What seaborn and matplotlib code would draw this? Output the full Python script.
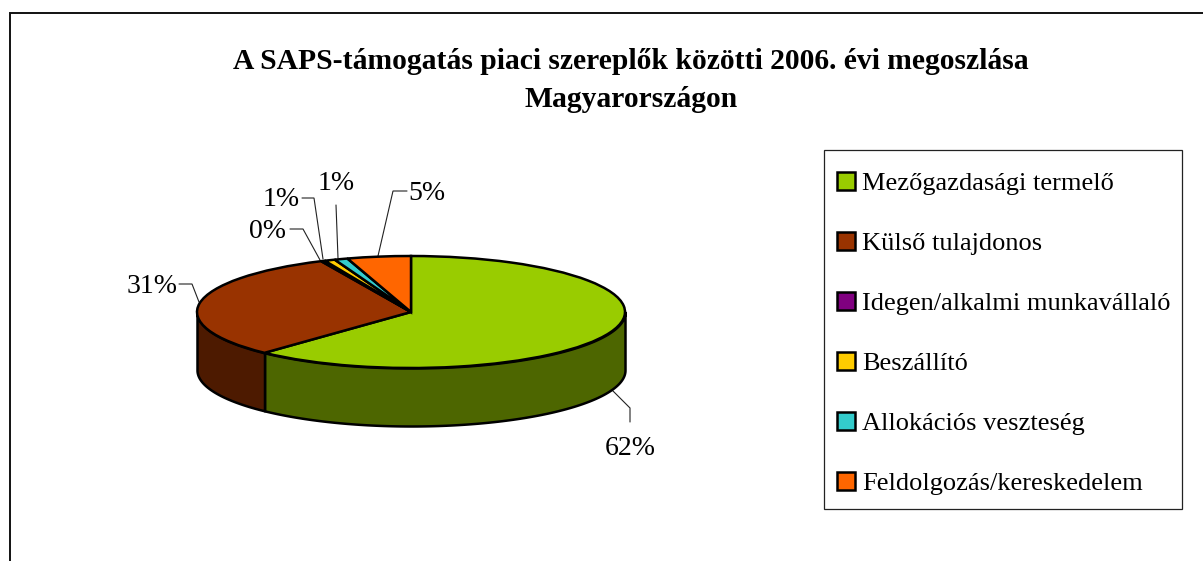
import numpy as np
import seaborn as sns
import matplotlib.pyplot as plt
from matplotlib.patches import Patch, Rectangle

categories = ["Mezőgazdasági termelő", "Külső tulajdonos", "Idegen/alkalmi munkavállaló",
              "Beszállító", "Allokációs veszteség", "Feldolgozás/kereskedelem"]
values = [62.0, 31.1, 0.3, 0.8, 1.0, 4.8]
pct_labels = ["62%", "31%", "0%", "1%", "1%", "5%"]
top_colors = ["#99CC00", "#993300", "#800080", "#FFCC00", "#33CCCC", "#FF6600"]
side_colors = ["#4D6600", "#4D1A00", "#400040", "#806600", "#1A6666", "#803300"]

sns.set_theme(style="white")
plt.rcParams["font.family"] = ["Liberation Serif", "DejaVu Serif"]

W, H = 1203, 561
fig = plt.figure(figsize=(W / 100, H / 100), dpi=100)

# overlay in pixel coordinates for frame, leaders and labels
bg = fig.add_axes([0, 0, 1, 1])
bg.set_xlim(0, W)
bg.set_ylim(H, 0)
bg.axis("off")
bg.plot([10, 10, W], [H, 13, 13], color="#111111", lw=1.4, solid_joinstyle="miter")

# the pie: unit circle squashed by the axes shape
cx, cy, rx, ry, depth = 411, 312, 214, 56, 58
ax = fig.add_axes([(cx - rx) / W, 1 - (cy + ry + depth) / H, 2 * rx / W, (2 * ry + depth) / H])
wedges, _ = ax.pie(values, colors=top_colors, startangle=90, counterclock=False, radius=1,
                   wedgeprops=dict(edgecolor="black", linewidth=1.8), normalize=True)
ax.set_aspect("auto")
d = depth / ry
ax.set_xlim(-1, 1)
ax.set_ylim(-1 - d, 1)
ax.axis("off")
for w in wedges:
    w.set_clip_on(False)
    w.set_zorder(3)

# side wall, front half of the rim only
edges = 90 - np.cumsum([0] + values) * 3.6
for a0, a1, c in zip(edges[:-1], edges[1:], side_colors):
    lo, hi = max(a1, -180), min(a0, 0)
    if hi <= lo:
        continue
    t = np.radians(np.linspace(hi, lo, 120))
    xs = np.cos(t)
    ax.fill_between(xs, np.sin(t) - d, np.sin(t), color=c, edgecolor="black", lw=1.8,
                    clip_on=False, zorder=2)

# leader lines and labels
leaders = [
    ([612, 630, 630], [390, 408, 422]),
    ([199, 192, 179], [302, 284, 284]),
    ([320, 303, 290], [260, 229, 229]),
    ([323, 314, 302], [259, 198, 198]),
    ([338, 336], [258, 205]),
    ([378, 393, 407], [256, 191, 191]),
]
label_pos = [(630, 448), (152, 286), (268, 231), (281, 199), (336, 183), (427, 193)]
for (lx, ly), txt, (px, py) in zip(leaders, pct_labels, label_pos):
    bg.plot(lx, ly, color="#222222", lw=0.8, solid_joinstyle="miter")
    bg.text(px, py, txt, ha="center", va="center", fontsize=20, color="black")

# title
bg.text(631, 61, "A SAPS-támogatás piaci szereplők közötti 2006. évi megoszlása",
        ha="center", va="center", fontsize=21.3, fontweight="bold", color="black")
bg.text(631, 99, "Magyarországon", ha="center", va="center", fontsize=21.3,
        fontweight="bold", color="black")

# legend
bg.add_patch(Rectangle((823.5, 149.5), 358.5, 359.5, facecolor="white", edgecolor="#222222", lw=0.9))
handles = [Patch(facecolor=c, edgecolor="black", linewidth=1.8) for c in top_colors]
leg = fig.legend(handles, categories, loc="upper left",
                 bbox_to_anchor=(837 / W, 1 - 172 / H), bbox_transform=fig.transFigure,
                 borderaxespad=0, fontsize=19, frameon=False,
                 handlelength=0.68, handleheight=0.68, handletextpad=0.26,
                 labelspacing=1.39, borderpad=0, labelcolor="black")

fig.savefig("out.png", dpi=100, facecolor="white")
